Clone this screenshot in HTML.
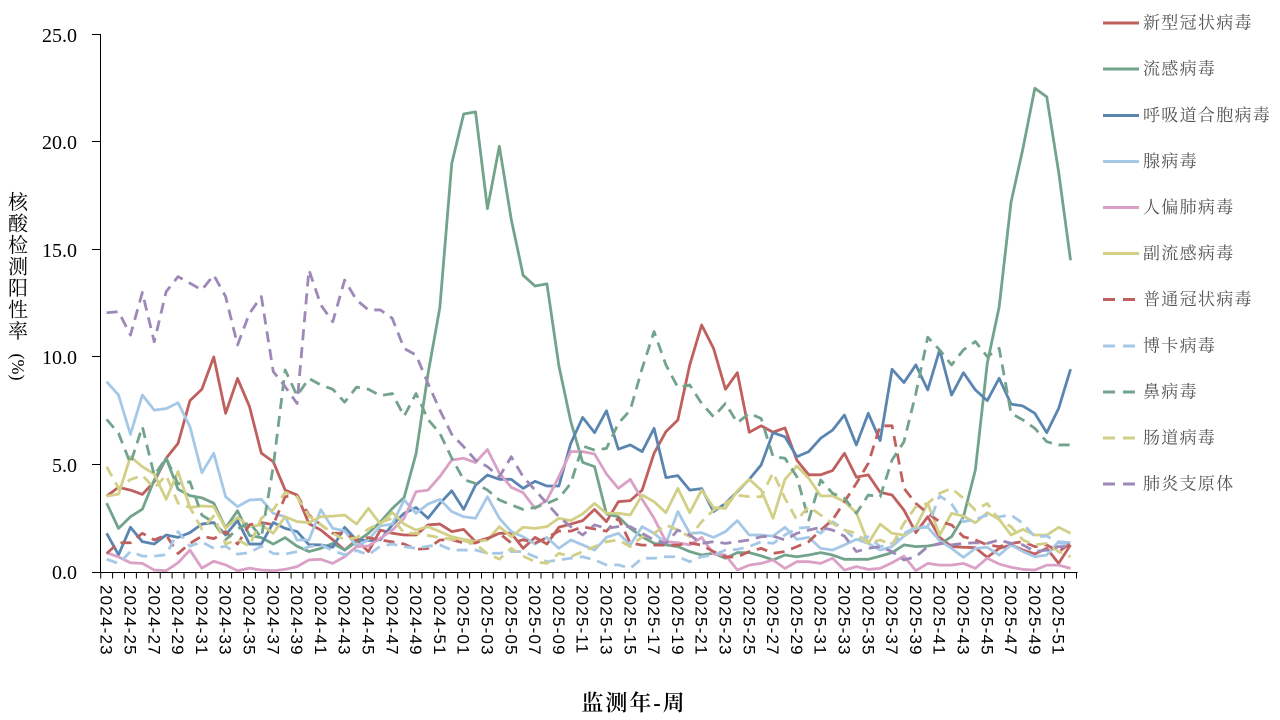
<!DOCTYPE html>
<html><head><meta charset="utf-8">
<style>
html,body{margin:0;padding:0;background:#fff;}
svg{display:block;}
.xt{font-family:"Liberation Sans",sans-serif;font-size:17px;letter-spacing:1.2px;fill:#000;}
.yt{font-family:"Liberation Serif",serif;font-size:20px;fill:#000;}
.lg{font-family:"Liberation Serif","Noto Serif CJK SC",serif;font-size:17px;letter-spacing:1.3px;fill:#555;}
.tt{font-family:"Liberation Serif","Noto Serif CJK SC",serif;fill:#000;}
</style></head><body>
<svg width="1280" height="720" viewBox="0 0 1280 720" xmlns="http://www.w3.org/2000/svg">
<rect width="1280" height="720" fill="#fff"/>

<g transform="matrix(11.9,0,0,-21.5,106.65,572)" fill="none" stroke-width="2.8" stroke-linejoin="round">
<polyline vector-effect="non-scaling-stroke" stroke="#c0605e" points="0,3.53 1,3.94 2,3.81 3,3.61 4,4.2 5,5.29 6,5.98 7,7.97 8,8.5 9,10.0 10,7.38 11,9.0 12,7.7 13,5.53 14,5.13 15,3.81 16,3.58 17,2.25 18,1.95 19,1.5 20,1.02 21,1.49 22,0.95 23,1.95 24,1.8 25,1.72 26,1.72 27,2.19 28,2.23 29,1.88 30,1.98 31,1.41 32,1.57 33,1.8 34,1.8 35,1.1 36,1.61 37,1.3 38,2.08 39,2.23 40,2.39 41,2.91 42,2.34 43,3.27 44,3.32 45,3.81 46,5.52 47,6.53 48,7.07 49,9.63 50,11.49 51,10.4 52,8.5 53,9.27 54,6.5 55,6.8 56,6.5 57,6.7 58,5.2 59,4.52 60,4.52 61,4.72 62,5.52 63,4.41 64,4.52 65,3.71 66,3.58 67,2.88 68,1.83 69,2.57 70,1.61 71,1.18 72,1.15 73,1.13 74,0.68 75,1.1 76,1.26 77,1.02 78,0.84 79,1.1 80,0.4 81,1.26"/>
<polyline vector-effect="non-scaling-stroke" stroke="#72a38b" points="0,3.2 1,2.03 2,2.57 3,2.92 4,4.28 5,5.29 6,3.85 7,3.55 8,3.45 9,3.2 10,2.05 11,2.85 12,1.7 13,1.6 14,1.3 15,1.6 16,1.2 17,0.95 18,1.1 19,1.33 20,1.02 21,1.41 22,1.8 23,2.33 24,2.95 25,3.47 26,5.5 27,9.2 28,12.3 29,19.0 30,21.3 31,21.4 32,16.9 33,19.8 34,16.4 35,13.8 36,13.3 37,13.4 38,9.6 39,7.0 40,5.1 41,4.9 42,2.7 43,2.57 44,2.03 45,1.64 46,1.33 47,1.26 48,1.18 49,0.95 50,0.79 51,0.87 52,0.64 53,0.9 54,0.9 55,0.75 56,0.56 57,0.79 58,0.71 59,0.79 60,0.9 61,0.79 62,0.59 63,0.59 64,0.59 65,0.74 66,0.9 67,1.26 68,1.18 69,1.21 70,1.3 71,1.64 72,2.57 73,4.74 74,9.7 75,12.33 76,17.2 77,19.7 78,22.5 79,22.1 80,18.6 81,14.5"/>
<polyline vector-effect="non-scaling-stroke" stroke="#5b85b1" points="0,1.8 1,0.8 2,2.08 3,1.41 4,1.3 5,1.72 6,1.61 7,1.83 8,2.23 9,2.3 10,1.72 11,2.39 12,1.3 13,1.3 14,2.3 15,2.03 16,1.88 17,1.27 18,1.26 19,1.15 20,2.08 21,1.49 22,1.46 23,1.5 24,2.19 25,2.73 26,3.0 27,2.5 28,3.19 29,3.78 30,2.91 31,4.04 32,4.51 33,4.31 34,4.31 35,3.89 36,4.22 37,4.0 38,4.0 39,5.98 40,7.19 41,6.48 42,7.5 43,5.71 44,5.91 45,5.6 46,6.68 47,4.39 48,4.48 49,3.81 50,3.88 51,2.81 52,3.19 53,3.74 54,4.31 55,4.98 56,6.48 57,6.29 58,5.36 59,5.6 60,6.22 61,6.6 62,7.3 63,5.91 64,7.38 65,6.11 66,9.43 67,8.81 68,9.63 69,8.47 70,10.33 71,8.23 72,9.27 73,8.47 74,7.97 75,9.01 76,7.81 77,7.72 78,7.38 79,6.48 80,7.61 81,9.43"/>
<polyline vector-effect="non-scaling-stroke" stroke="#a6c8e7" points="0,8.85 1,8.23 2,6.4 3,8.23 4,7.53 5,7.6 6,7.87 7,6.76 8,4.62 9,5.52 10,3.5 11,3.04 12,3.35 13,3.38 14,2.73 15,2.57 16,1.49 17,1.49 18,2.9 19,2.03 20,1.92 21,1.21 22,1.5 23,2.14 24,2.23 25,3.35 26,2.73 27,3.16 28,3.38 29,2.81 30,2.57 31,2.5 32,3.5 33,2.5 34,1.88 35,1.64 36,1.3 37,1.61 38,1.1 39,1.49 40,1.26 41,1.02 42,1.61 43,1.8 44,1.26 45,2.11 46,1.8 47,1.33 48,2.81 49,1.8 50,1.83 51,1.61 52,1.88 53,2.39 54,1.72 55,1.72 56,1.67 57,2.08 58,1.52 59,1.61 60,1.1 61,1.02 62,1.26 63,1.52 64,1.33 65,1.02 66,1.18 67,1.67 68,2.03 69,2.08 70,1.46 71,1.1 72,0.68 73,1.1 74,1.15 75,0.79 76,1.26 77,0.95 78,0.71 79,0.79 80,1.41 81,1.36"/>
<polyline vector-effect="non-scaling-stroke" stroke="#daa0c6" points="0,0.9 1,0.7 2,0.43 3,0.4 4,0.09 5,0.06 6,0.43 7,1.02 8,0.18 9,0.5 10,0.33 11,0.06 12,0.18 13,0.09 14,0.06 15,0.12 16,0.25 17,0.56 18,0.59 19,0.4 20,0.71 21,1.18 22,1.21 23,1.57 24,1.95 25,2.5 26,3.74 27,3.81 28,4.44 29,5.21 30,5.29 31,5.09 32,5.7 33,4.6 34,3.94 35,3.69 36,2.96 37,3.35 38,4.43 39,5.6 40,5.6 41,5.49 42,4.56 43,3.89 44,4.31 45,3.38 46,2.5 47,1.41 48,1.36 49,1.26 50,1.61 51,0.84 52,0.79 53,0.09 54,0.32 55,0.4 56,0.56 57,0.17 58,0.48 59,0.48 60,0.4 61,0.64 62,0.09 63,0.25 64,0.12 65,0.17 66,0.43 67,0.74 68,0.06 69,0.4 70,0.32 71,0.32 72,0.4 73,0.17 74,0.64 75,0.37 76,0.22 77,0.12 78,0.09 79,0.32 80,0.32 81,0.17"/>
<polyline vector-effect="non-scaling-stroke" stroke="#d2cf87" points="0,3.53 1,3.62 2,5.36 3,4.9 4,4.56 5,3.38 6,4.67 7,3.0 8,3.07 9,3.04 10,2.03 11,2.54 12,2.11 13,2.19 14,1.8 15,2.57 16,2.34 17,2.3 18,2.57 19,2.6 20,2.65 21,2.23 22,2.96 23,2.23 24,2.77 25,2.23 26,1.95 27,2.11 28,1.88 29,1.64 30,1.52 31,1.41 32,1.49 33,2.11 34,1.64 35,2.08 36,2.03 37,2.11 38,2.5 39,2.39 40,2.7 41,3.19 42,2.73 43,2.73 44,2.65 45,3.58 46,3.27 47,2.76 48,3.89 49,2.76 50,3.81 51,3.0 52,2.96 53,3.78 54,4.31 55,3.81 56,2.5 57,4.31 58,4.93 59,4.36 60,3.54 61,3.54 62,3.27 63,2.76 64,1.33 65,2.23 66,1.8 67,1.72 68,2.11 69,3.19 70,1.72 71,2.73 72,2.6 73,2.29 74,2.76 75,2.45 76,1.72 77,1.98 78,1.72 79,1.72 80,2.08 81,1.8"/>
<g stroke-dasharray="11 7">
<polyline vector-effect="non-scaling-stroke" stroke="#c0605e" points="0,0.86 1,1.36 2,1.36 3,1.8 4,1.49 5,1.72 6,0.86 7,1.33 8,1.67 9,1.55 10,1.88 11,1.3 12,2.2 13,2.3 14,2.2 15,3.5 16,3.58 17,2.65 18,2.2 19,1.8 20,1.8 21,1.5 22,1.6 23,1.49 24,1.4 25,1.3 26,1.05 27,1.1 28,1.49 29,1.5 30,1.35 31,1.35 32,1.55 33,1.8 34,1.35 35,1.5 36,1.35 37,1.6 38,1.9 39,1.9 40,2.1 41,2.0 42,1.9 43,2.5 44,1.35 45,1.25 46,1.25 47,1.25 48,1.25 49,1.35 50,1.25 51,0.95 52,0.7 53,0.7 54,0.95 55,1.1 56,0.87 57,0.95 58,1.18 59,1.41 60,1.95 61,2.42 62,3.27 63,4.12 64,5.05 65,6.8 66,6.8 67,3.89 68,3.19 69,2.73 70,2.34 71,2.19 72,1.64 73,1.49 74,1.26 75,1.18 76,1.33 77,1.41 78,1.18 79,1.26 80,0.95 81,1.33"/>
<polyline vector-effect="non-scaling-stroke" stroke="#a6c8e7" points="0,0.59 1,0.4 2,0.95 3,0.74 4,0.74 5,0.8 6,1.88 7,1.2 8,1.4 9,1.1 10,1.2 11,0.83 12,0.9 13,1.2 14,0.86 15,0.83 16,0.95 17,1.18 18,1.26 19,1.0 20,0.8 21,1.0 22,0.8 23,1.2 24,1.3 25,1.18 26,1.1 27,1.2 28,1.26 29,1.02 30,1.02 31,1.02 32,0.87 33,0.87 34,0.95 35,0.95 36,0.71 37,0.48 38,0.56 39,0.64 40,0.71 41,0.56 42,0.33 43,0.33 44,0.17 45,0.64 46,0.64 47,0.71 48,0.71 49,0.48 50,0.71 51,0.79 52,1.02 53,1.05 54,1.18 55,1.41 56,1.33 57,1.72 58,2.03 59,2.08 60,1.8 61,2.34 62,1.98 63,1.49 64,1.64 65,1.18 66,1.33 67,1.8 68,2.08 69,2.11 70,3.54 71,3.17 72,2.34 73,2.45 74,2.65 75,2.57 76,2.65 77,2.26 78,1.64 79,1.67 80,1.36 81,1.26"/>
<polyline vector-effect="non-scaling-stroke" stroke="#72a38b" points="0,7.1 1,6.45 2,5.05 3,6.76 4,4.5 5,5.3 6,4.1 7,4.2 8,2.65 9,2.3 10,1.5 11,2.0 12,2.3 13,1.6 14,4.9 15,9.4 16,8.2 17,9.0 18,8.7 19,8.5 20,7.9 21,8.6 22,8.5 23,8.2 24,8.3 25,7.25 26,8.3 27,7.1 28,6.45 29,5.3 30,4.3 31,4.12 32,3.81 33,3.35 34,3.12 35,2.91 36,3.0 37,3.19 38,3.43 39,4.12 40,5.86 41,5.67 42,5.75 43,6.91 44,7.53 45,9.47 46,11.18 47,9.63 48,8.59 49,8.7 50,7.84 51,7.22 52,7.84 53,6.94 54,7.38 55,7.14 56,5.37 57,5.29 58,4.43 59,2.42 60,4.28 61,3.66 62,3.43 63,2.73 64,3.58 65,3.5 66,5.21 67,6.06 68,8.3 69,10.92 70,10.33 71,9.63 72,10.33 73,10.72 74,10.02 75,10.4 76,7.38 77,7.07 78,6.68 79,6.06 80,5.91 81,5.91"/>
<polyline vector-effect="non-scaling-stroke" stroke="#d2cf87" points="0,4.9 1,3.9 2,4.3 3,4.5 4,3.9 5,4.5 6,3.2 7,3.0 8,2.0 9,2.6 10,1.3 11,1.5 12,1.2 13,2.5 14,2.9 15,3.7 16,3.5 17,2.6 18,2.2 19,1.8 20,1.5 21,1.6 22,2.0 23,2.3 24,2.5 25,1.81 26,1.8 27,1.7 28,1.6 29,1.52 30,1.46 31,1.3 32,0.85 33,0.6 34,1.1 35,0.74 36,0.48 37,0.4 38,0.87 39,0.71 40,0.95 41,1.18 42,1.41 43,1.49 44,1.18 45,1.64 46,1.8 47,2.19 48,1.95 49,1.64 50,2.34 51,2.88 52,3.19 53,3.58 54,3.5 55,3.5 56,4.62 57,3.43 58,2.42 59,3.04 60,2.65 61,2.26 62,1.95 63,1.8 64,1.33 65,1.49 66,1.26 67,2.26 68,3.04 69,3.19 70,3.66 71,3.89 72,3.43 73,2.88 74,3.19 75,2.42 76,2.11 77,1.49 78,1.26 79,1.33 80,0.95 81,0.71"/>
<polyline vector-effect="non-scaling-stroke" stroke="#9d88b8" points="0,12.06 1,12.11 2,11.02 3,13.0 4,10.71 5,13.04 6,13.74 7,13.43 8,13.12 9,13.81 10,12.81 11,10.56 12,12.03 13,12.81 14,9.32 15,8.62 16,7.84 17,14.05 18,12.42 19,11.64 20,13.58 21,12.65 22,12.19 23,12.19 24,11.8 25,10.4 26,10.09 27,8.78 28,7.53 29,6.4 30,5.83 31,5.2 32,4.9 33,4.43 34,5.36 35,4.43 36,3.81 37,3.19 38,2.57 39,2.11 40,1.72 41,2.19 42,2.03 43,2.11 44,2.11 45,1.8 46,1.49 47,1.33 48,1.95 49,1.72 50,1.33 51,1.41 52,1.33 53,1.41 54,1.49 55,1.64 56,1.67 57,1.49 58,1.8 59,1.95 60,2.08 61,1.95 62,1.67 63,0.95 64,1.1 65,1.18 66,0.95 67,0.56 68,0.71 69,1.18 70,1.33 71,1.26 72,1.33 73,1.36 74,1.33 75,1.49 76,1.33 77,1.26 78,0.95 79,1.02 80,1.18 81,1.18"/>
</g>
</g>

<g stroke="#000" stroke-width="1" fill="none">
<line x1="100.5" y1="34" x2="100.5" y2="572.5"/>
<line x1="100" y1="572.5" x2="1077.5" y2="572.5"/>
<line x1="92" y1="34.5" x2="100" y2="34.5"/>
<line x1="92" y1="141.5" x2="100" y2="141.5"/>
<line x1="92" y1="249.5" x2="100" y2="249.5"/>
<line x1="92" y1="356.5" x2="100" y2="356.5"/>
<line x1="92" y1="464.5" x2="100" y2="464.5"/>
<line x1="92" y1="572.5" x2="100" y2="572.5"/>
<line x1="100.2" y1="575.5" x2="1077.5" y2="575.5" stroke-width="6" stroke-dasharray="1 10.9"/>
</g>

<g class="yt" text-anchor="end">
<text x="77" y="42">25.0</text>
<text x="77" y="149">20.0</text>
<text x="77" y="257">15.0</text>
<text x="77" y="364">10.0</text>
<text x="77" y="472">5.0</text>
<text x="77" y="579">0.0</text>
</g>

<g class="xt">
<text transform="translate(106.65,585) rotate(90)" y="6">2024-23</text>
<text transform="translate(130.45,585) rotate(90)" y="6">2024-25</text>
<text transform="translate(154.25,585) rotate(90)" y="6">2024-27</text>
<text transform="translate(178.05,585) rotate(90)" y="6">2024-29</text>
<text transform="translate(201.85,585) rotate(90)" y="6">2024-31</text>
<text transform="translate(225.65,585) rotate(90)" y="6">2024-33</text>
<text transform="translate(249.45,585) rotate(90)" y="6">2024-35</text>
<text transform="translate(273.25,585) rotate(90)" y="6">2024-37</text>
<text transform="translate(297.05,585) rotate(90)" y="6">2024-39</text>
<text transform="translate(320.85,585) rotate(90)" y="6">2024-41</text>
<text transform="translate(344.65,585) rotate(90)" y="6">2024-43</text>
<text transform="translate(368.45,585) rotate(90)" y="6">2024-45</text>
<text transform="translate(392.25,585) rotate(90)" y="6">2024-47</text>
<text transform="translate(416.05,585) rotate(90)" y="6">2024-49</text>
<text transform="translate(439.85,585) rotate(90)" y="6">2024-51</text>
<text transform="translate(463.65,585) rotate(90)" y="6">2025-01</text>
<text transform="translate(487.45,585) rotate(90)" y="6">2025-03</text>
<text transform="translate(511.25,585) rotate(90)" y="6">2025-05</text>
<text transform="translate(535.05,585) rotate(90)" y="6">2025-07</text>
<text transform="translate(558.85,585) rotate(90)" y="6">2025-09</text>
<text transform="translate(582.65,585) rotate(90)" y="6">2025-11</text>
<text transform="translate(606.45,585) rotate(90)" y="6">2025-13</text>
<text transform="translate(630.25,585) rotate(90)" y="6">2025-15</text>
<text transform="translate(654.05,585) rotate(90)" y="6">2025-17</text>
<text transform="translate(677.85,585) rotate(90)" y="6">2025-19</text>
<text transform="translate(701.65,585) rotate(90)" y="6">2025-21</text>
<text transform="translate(725.45,585) rotate(90)" y="6">2025-23</text>
<text transform="translate(749.25,585) rotate(90)" y="6">2025-25</text>
<text transform="translate(773.05,585) rotate(90)" y="6">2025-27</text>
<text transform="translate(796.85,585) rotate(90)" y="6">2025-29</text>
<text transform="translate(820.65,585) rotate(90)" y="6">2025-31</text>
<text transform="translate(844.45,585) rotate(90)" y="6">2025-33</text>
<text transform="translate(868.25,585) rotate(90)" y="6">2025-35</text>
<text transform="translate(892.05,585) rotate(90)" y="6">2025-37</text>
<text transform="translate(915.85,585) rotate(90)" y="6">2025-39</text>
<text transform="translate(939.65,585) rotate(90)" y="6">2025-41</text>
<text transform="translate(963.45,585) rotate(90)" y="6">2025-43</text>
<text transform="translate(987.25,585) rotate(90)" y="6">2025-45</text>
<text transform="translate(1011.05,585) rotate(90)" y="6">2025-47</text>
<text transform="translate(1034.85,585) rotate(90)" y="6">2025-49</text>
<text transform="translate(1058.65,585) rotate(90)" y="6">2025-51</text>
</g>

<g class="tt" font-size="20" text-anchor="middle" dominant-baseline="central">
<text x="18" y="203">核</text>
<text x="18" y="224.5">酸</text>
<text x="18" y="246">检</text>
<text x="18" y="267.5">测</text>
<text x="18" y="289">阳</text>
<text x="18" y="310.5">性</text>
<text x="18" y="332">率</text>
<text transform="translate(18,367) rotate(90)" font-size="18">(%)</text>
</g>
<text class="tt" x="634" y="703" font-size="22" font-weight="600" letter-spacing="2" text-anchor="middle" dominant-baseline="central">监测年-周</text>

<g stroke-width="3" fill="none">
<line x1="1103" y1="23" x2="1139" y2="23" stroke="#c0605e"/>
<line x1="1103" y1="69" x2="1139" y2="69" stroke="#72a38b"/>
<line x1="1103" y1="115.5" x2="1139" y2="115.5" stroke="#5b85b1"/>
<line x1="1103" y1="161.5" x2="1139" y2="161.5" stroke="#a6c8e7"/>
<line x1="1103" y1="207.5" x2="1139" y2="207.5" stroke="#daa0c6"/>
<line x1="1103" y1="253.5" x2="1139" y2="253.5" stroke="#d2cf87"/>
<g stroke-dasharray="12 8">
<line x1="1103" y1="299.5" x2="1136" y2="299.5" stroke="#c0605e"/>
<line x1="1103" y1="346" x2="1136" y2="346" stroke="#a6c8e7"/>
<line x1="1103" y1="392" x2="1136" y2="392" stroke="#72a38b"/>
<line x1="1103" y1="438" x2="1136" y2="438" stroke="#d2cf87"/>
<line x1="1103" y1="484" x2="1136" y2="484" stroke="#9d88b8"/>
</g>
</g>
<g class="lg" dominant-baseline="central">
<text x="1143" y="23">新型冠状病毒</text>
<text x="1143" y="69">流感病毒</text>
<text x="1143" y="115.5">呼吸道合胞病毒</text>
<text x="1143" y="161.5">腺病毒</text>
<text x="1143" y="207.5">人偏肺病毒</text>
<text x="1143" y="253.5">副流感病毒</text>
<text x="1143" y="299.5">普通冠状病毒</text>
<text x="1143" y="346">博卡病毒</text>
<text x="1143" y="392">鼻病毒</text>
<text x="1143" y="438">肠道病毒</text>
<text x="1143" y="484">肺炎支原体</text>
</g>
</svg>
</body></html>
